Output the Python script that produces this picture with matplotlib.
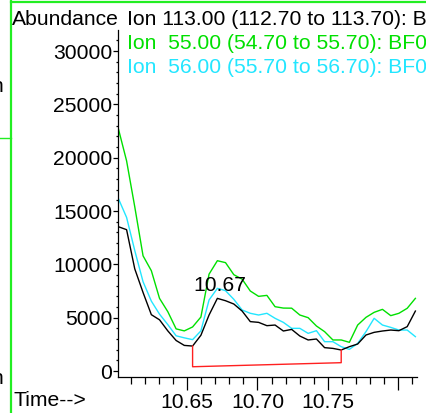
import matplotlib
matplotlib.use("Agg")
import matplotlib.pyplot as plt
from matplotlib.ticker import MultipleLocator, FixedLocator, FixedFormatter

plt.rcParams['font.family'] = ['Liberation Sans', 'DejaVu Sans']

# ---- data ----
times = [10.6011, 10.6070, 10.6128, 10.6187, 10.6246, 10.6304, 10.6363, 10.6422,
         10.6480, 10.6539, 10.6598, 10.6656, 10.6715, 10.6773, 10.6832, 10.6891,
         10.6949, 10.7008, 10.7067, 10.7125, 10.7184, 10.7243, 10.7301, 10.7360,
         10.7419, 10.7477, 10.7536, 10.7595, 10.7653, 10.7712, 10.7771, 10.7829,
         10.7888, 10.7947, 10.8005, 10.8064, 10.8122]

ion113 = [13530, 13250, 9580, 7360, 5280, 4800, 3760, 2860, 2400, 2340, 3350, 5250,
          6810, 6590, 6280, 5620, 4630, 4560, 4250, 4310, 3750, 3900, 3280, 2910,
          3000, 2190, 2120, 1970, 2280, 2530, 3375, 3625, 3750, 3840, 3780, 4160, 5620]

ion55 = [22750, 19700, 15400, 10800, 9400, 6810, 5560, 3950, 3760, 4130, 5060, 9080,
         10340, 10160, 9030, 8610, 7500, 7000, 7090, 6030, 5900, 5890, 5250, 5000,
         4220, 3690, 2910, 2910, 2690, 4310, 5030, 5500, 5780, 5190, 5410, 5880, 6810]

ion56 = [16190, 14400, 11300, 8370, 6550, 5330, 4350, 3300, 3110, 2940, 3760, 6660,
         7750, 7530, 6720, 5720, 5410, 5250, 5410, 4940, 4560, 4000, 4000, 3530,
         3780, 2750, 2750, 2280, 2030, 2590, 3690, 4940, 4310, 4090, 3840, 3840, 3220]

# integration baseline (start/end time and baseline abundance)
base_t = [10.6539, 10.7595]
base_y = [400, 780]
peak_label = "10.67"
peak_pos = (10.6732, 8060)

xtick_vals = [10.65, 10.70, 10.75, 10.80]
xtick_labels = ["10.65", "10.70", "10.75", ""]

legend_lines = ["Ion 113.00 (112.70 to 113.70): BF0",
                "Ion  55.00 (54.70 to 55.70): BF0",
                "Ion  56.00 (55.70 to 56.70): BF0"]

GREEN = '#00e000'
CYAN = '#22e6ff'
FS = 15.2

W, H = 426, 413
fig = plt.figure(figsize=(W / 100, H / 100), dpi=100)

def fx(px):
    return px / W

def fy(py):
    return 1 - py / H

ax = fig.add_axes([fx(118), fy(377.3), (416.5 - 118) / W, (377.3 - 30) / H])

ax.plot(times, ion55, color=GREEN, lw=1.0)
ax.plot(times, ion56, color=CYAN, lw=1.0)
ax.plot(times, ion113, color='black', lw=1.0)

# integration baseline in red
i0 = times.index(base_t[0])
i1 = times.index(base_t[1])
ax.plot([base_t[0], base_t[0], base_t[1], base_t[1]],
        [ion113[i0], base_y[0], base_y[1], ion113[i1]], color='#ff2020', lw=1.0)

ax.text(peak_pos[0], peak_pos[1], peak_label, fontsize=FS, ha='center', va='center')

ax.set_xlim(10.6009, 10.8130)
ax.set_ylim(-590, 31970)

ax.spines['top'].set_visible(False)
ax.spines['right'].set_visible(False)
for s in ('left', 'bottom'):
    ax.spines[s].set_linewidth(0.9)

ax.xaxis.set_major_locator(FixedLocator(xtick_vals))
ax.xaxis.set_major_formatter(FixedFormatter(xtick_labels))
ax.xaxis.set_minor_locator(MultipleLocator(0.01))
ax.yaxis.set_major_locator(MultipleLocator(5000))
ax.yaxis.set_minor_locator(MultipleLocator(1000))

ax.tick_params(axis='x', which='major', length=9.5, width=0.9, labelsize=FS, pad=1.5)
ax.tick_params(axis='x', which='minor', length=5, width=0.9)
ax.tick_params(axis='y', which='major', length=3.5, width=0.9, labelsize=FS, pad=0.5)
ax.tick_params(axis='y', which='minor', length=1.5, width=0.9)

# header texts
fig.text(fx(11.5), fy(25), "Abundance", fontsize=FS, va='baseline', ha='left')
fig.text(fx(127), fy(25), legend_lines[0], fontsize=FS, va='baseline', ha='left', color='black')
fig.text(fx(127), fy(49), legend_lines[1], fontsize=FS, va='baseline', ha='left', color=GREEN)
fig.text(fx(127), fy(73), legend_lines[2], fontsize=FS, va='baseline', ha='left', color=CYAN)
fig.text(fx(13), fy(401), "Time-->", fontsize=FS, va='center', ha='left')

# window frame decorations
fig.add_artist(plt.Line2D([fx(11), fx(11)], [0, 1], color='#22ee22', lw=1.6))
fig.add_artist(plt.Line2D([fx(11), 1], [fy(2), fy(2)], color='#22ee22', lw=1.6))
fig.add_artist(plt.Line2D([0, fx(11)], [fy(138), fy(138)], color='#22ee22', lw=1.0))
fig.text(fx(3), fy(87), "n", fontsize=FS, va='center', ha='right')
fig.text(fx(3), fy(378), "n", fontsize=FS, va='center', ha='right')

fig.savefig("out.png", dpi=100)
